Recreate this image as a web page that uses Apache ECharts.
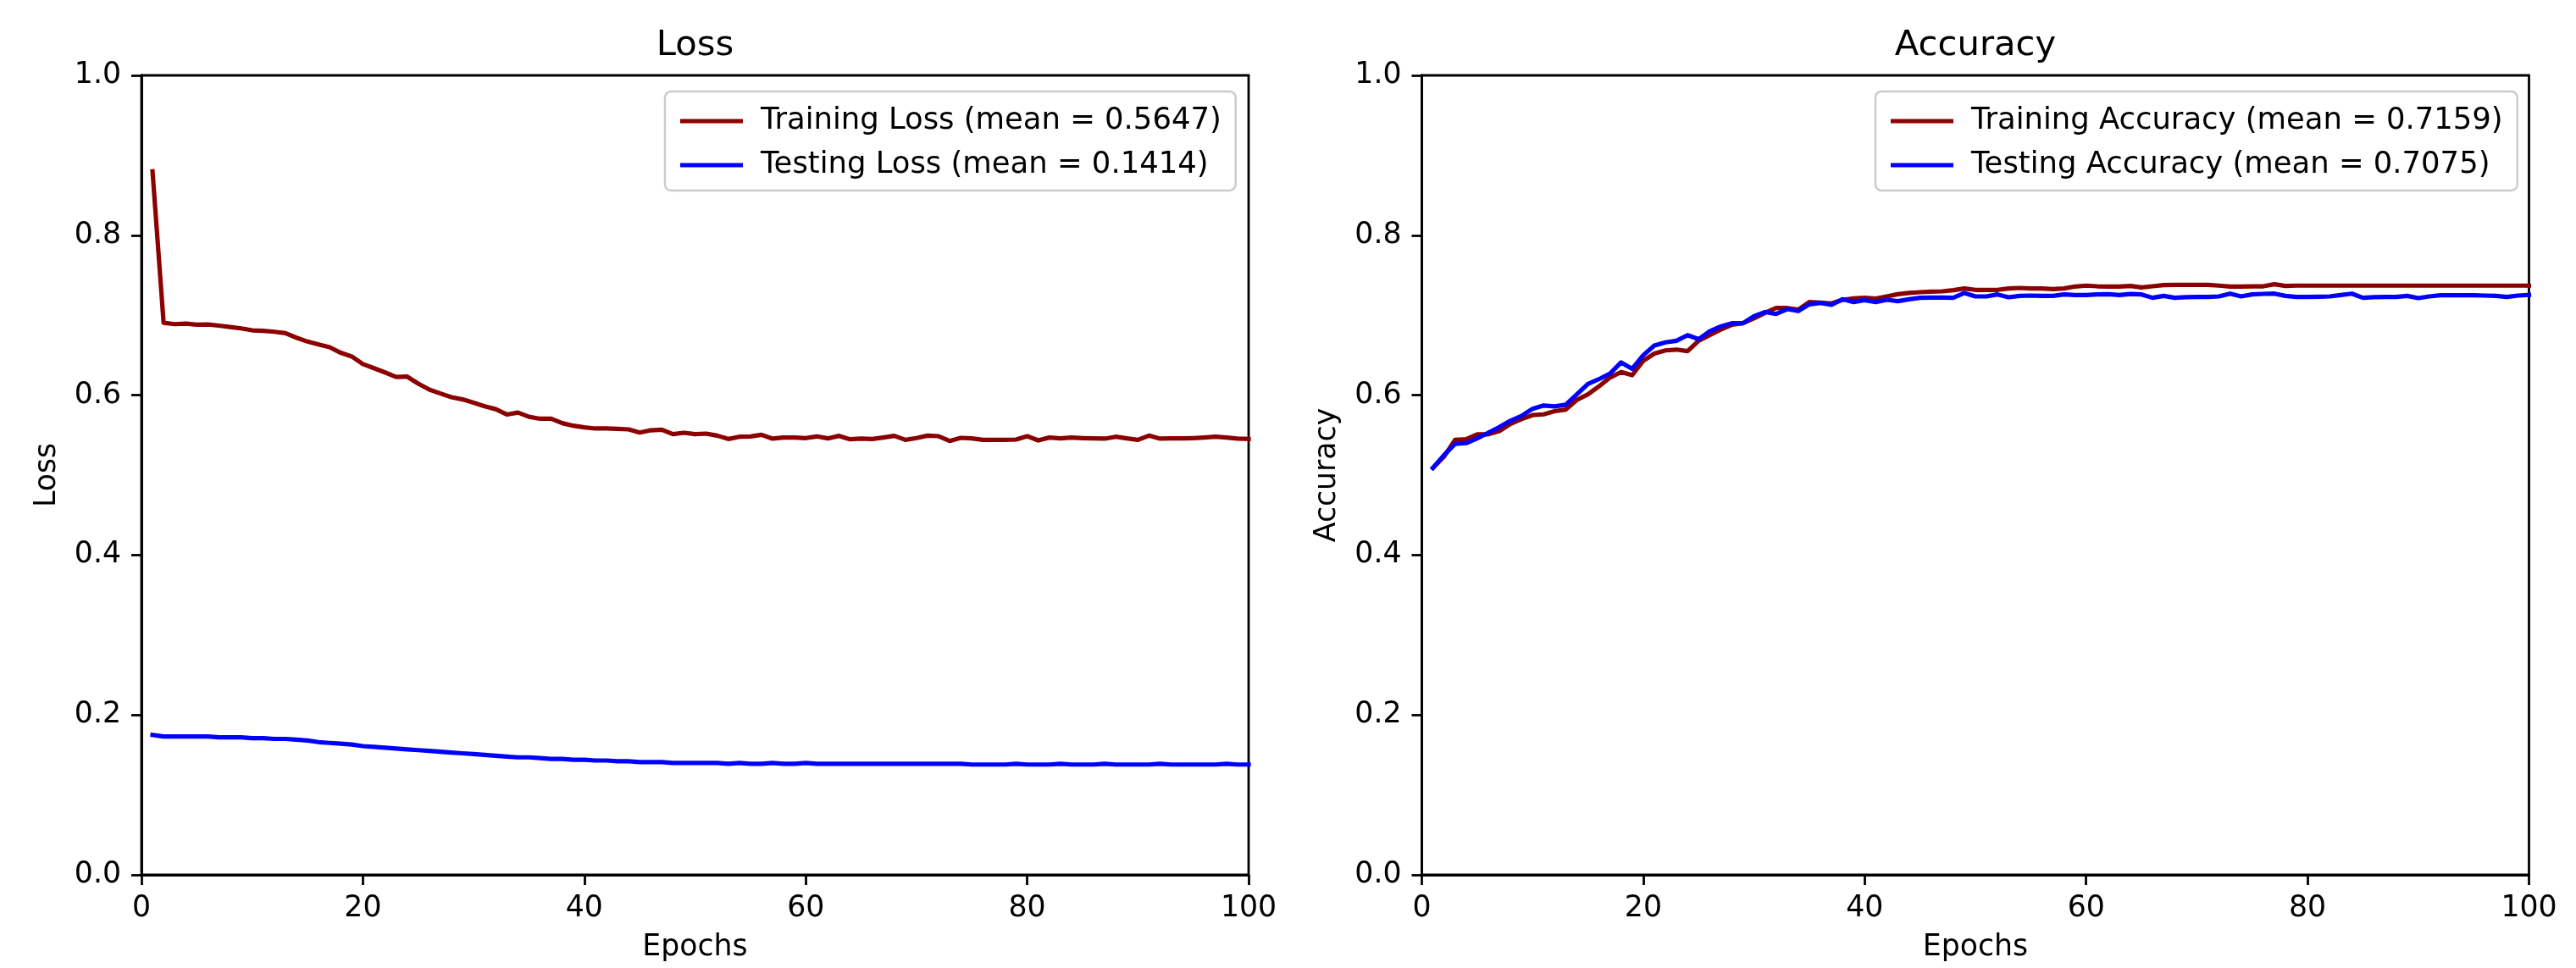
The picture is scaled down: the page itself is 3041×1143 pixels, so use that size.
<!DOCTYPE html>
<html><head><meta charset="utf-8">
<script src="https://cdn.jsdelivr.net/npm/echarts@6/dist/echarts.min.js"></script>
<style>html,body{margin:0;padding:0;background:#fff}#c{width:3041px;height:1143px}</style>
</head><body><div id="c"></div>
<script>
const titles = ['Loss', 'Accuracy'];
const yNames = ['Loss', 'Accuracy'];
const xName = 'Epochs';
const xTicks = [0, 20, 40, 60, 80, 100];
const yTicks = [0.0, 0.2, 0.4, 0.6, 0.8, 1.0];
const lossNames = ['Training Loss (mean = 0.5647)', 'Testing Loss (mean = 0.1414)'];
const accNames = ['Training Accuracy (mean = 0.7159)', 'Testing Accuracy (mean = 0.7075)'];

const trainLoss = [
0.880,0.6905,0.6888,0.6895,0.6881,0.6884,0.6870,0.6853,0.6835,0.6811,
0.6804,0.6793,0.6775,0.6719,0.6670,0.6635,0.6600,0.6530,0.6484,0.6389,
0.6337,0.6284,0.6228,0.6232,0.6144,0.6070,0.6021,0.5975,0.5947,0.5905,
0.5860,0.5825,0.5758,0.5782,0.5730,0.5705,0.5705,0.5650,0.5618,0.5597,
0.5583,0.5583,0.5579,0.5572,0.5533,0.5561,0.5569,0.5512,0.5530,0.5512,
0.5519,0.5494,0.5452,0.5480,0.5484,0.5505,0.5456,0.5470,0.5470,0.5463,
0.5484,0.5459,0.5491,0.5448,0.5456,0.5452,0.5470,0.5491,0.5441,0.5463,
0.5494,0.5487,0.5427,0.5466,0.5459,0.5441,0.5441,0.5441,0.5445,0.5487,
0.5434,0.5470,0.5459,0.5470,0.5463,0.5459,0.5456,0.5480,0.5459,0.5441,
0.5494,0.5456,0.5459,0.5459,0.5463,0.5470,0.5480,0.5470,0.5456,0.5452];

const testLoss = [
0.175,0.173,0.173,0.173,0.173,0.173,0.172,0.172,0.172,0.171,
0.171,0.170,0.170,0.169,0.168,0.166,0.165,0.164,0.163,0.161,
0.160,0.159,0.158,0.157,0.156,0.155,0.154,0.153,0.152,0.151,
0.150,0.149,0.148,0.147,0.147,0.146,0.145,0.145,0.144,0.144,
0.143,0.143,0.142,0.142,0.141,0.141,0.141,0.140,0.140,0.140,
0.140,0.140,0.139,0.140,0.139,0.139,0.140,0.139,0.139,0.140,
0.139,0.139,0.139,0.139,0.139,0.139,0.139,0.139,0.139,0.139,
0.139,0.139,0.139,0.139,0.138,0.138,0.138,0.138,0.139,0.138,
0.138,0.138,0.139,0.138,0.138,0.138,0.139,0.138,0.138,0.138,
0.138,0.139,0.138,0.138,0.138,0.138,0.138,0.139,0.138,0.138];

const trainAcc = [
0.509,0.523,0.544,0.545,0.551,0.551,0.555,0.564,0.570,0.575,
0.576,0.580,0.582,0.594,0.601,0.611,0.622,0.629,0.625,0.643,
0.652,0.656,0.657,0.655,0.668,0.675,0.682,0.688,0.690,0.696,
0.703,0.709,0.709,0.707,0.7165,0.7158,0.7147,0.7193,0.7211,0.7218,
0.7207,0.7235,0.7263,0.7278,0.7288,0.7295,0.7299,0.7313,0.7334,0.7317,
0.7317,0.7317,0.7334,0.7341,0.7334,0.7334,0.7327,0.7334,0.7359,0.7370,
0.7362,0.7359,0.7359,0.7366,0.7348,0.7362,0.7377,0.7380,0.7380,0.7380,
0.7380,0.7370,0.7359,0.7359,0.7362,0.7362,0.7388,0.7366,0.7370,0.7370,
0.7370,0.7370,0.7370,0.7370,0.7370,0.7370,0.7370,0.7370,0.7370,0.7370,
0.7370,0.7370,0.7370,0.7370,0.7370,0.7370,0.7370,0.7370,0.7370,0.7370];

const testAcc = [
0.509,0.525,0.539,0.540,0.546,0.553,0.560,0.568,0.574,0.583,
0.587,0.586,0.588,0.601,0.614,0.620,0.627,0.641,0.633,0.650,
0.662,0.666,0.668,0.675,0.670,0.680,0.686,0.690,0.690,0.6988,
0.7041,0.7016,0.7076,0.7052,0.7136,0.7154,0.7129,0.7200,0.7165,0.7189,
0.7165,0.7193,0.7175,0.7200,0.7218,0.7221,0.7221,0.7218,0.7278,0.7235,
0.7235,0.7260,0.7225,0.7242,0.7246,0.7242,0.7242,0.7260,0.7253,0.7253,
0.7260,0.7263,0.7253,0.7265,0.7260,0.7218,0.7242,0.7218,0.7225,0.7228,
0.7228,0.7235,0.7270,0.7235,0.7260,0.7267,0.7270,0.7242,0.7228,0.7228,
0.7232,0.7235,0.7253,0.7270,0.7218,0.7225,0.7228,0.7228,0.7242,0.7214,
0.7235,0.7249,0.7249,0.7249,0.7249,0.7246,0.7242,0.7228,0.7246,0.7253];

const epochs = trainLoss.map((_, i) => i + 1);
const pairs = arr => arr.map((v, i) => [epochs[i], v]);

const FONT = 'DejaVu Sans';
const FS = 34.7;
const LEG_FS = 35.4;
const RED = '#8b0000';
const BLUE = '#0000ff';
const LW = 5.2;
const SW = 2.8;

const grids = [
  { left: 167, top: 89, width: 1307, height: 944 },
  { left: 1678.5, top: 89, width: 1307, height: 944 }
];

function xAxis(i) {
  return {
    type: 'value', gridIndex: i, min: xTicks[0], max: xTicks[xTicks.length - 1],
    interval: xTicks[1] - xTicks[0],
    name: xName, nameLocation: 'middle', nameGap: 68,
    nameTextStyle: { fontFamily: FONT, fontSize: FS, color: '#000' },
    axisLine: { show: true, onZero: false, lineStyle: { color: '#000', width: SW } },
    axisTick: { show: true, inside: false, length: 12, lineStyle: { color: '#000', width: SW } },
    axisLabel: { show: true, margin: 22, fontFamily: FONT, fontSize: FS, color: '#000', showMinLabel: true, showMaxLabel: true, hideOverlap: false },
    splitLine: { show: false }
  };
}
function yAxis(i) {
  return {
    type: 'value', gridIndex: i, min: yTicks[0], max: yTicks[yTicks.length - 1],
    interval: 0.2,
    name: yNames[i], nameLocation: 'middle', nameGap: 94, nameRotate: 90,
    nameTextStyle: { fontFamily: FONT, fontSize: FS, color: '#000' },
    axisLine: { show: true, onZero: false, lineStyle: { color: '#000', width: SW } },
    axisTick: { show: true, inside: false, length: 12, lineStyle: { color: '#000', width: SW } },
    axisLabel: { show: true, margin: 24, fontFamily: FONT, fontSize: FS, color: '#000', formatter: v => v.toFixed(1), showMinLabel: true, showMaxLabel: true, hideOverlap: false },
    splitLine: { show: false }
  };
}
function line(name, data, color, gi) {
  return {
    type: 'line', name: name, xAxisIndex: gi, yAxisIndex: gi, data: pairs(data),
    symbol: 'none', showSymbol: false, smooth: false, animation: false,
    lineStyle: { color: color, width: LW, join: 'round', cap: 'square' },
    itemStyle: { color: color },
    emphasis: { disabled: true }
  };
}
function legend(names, left) {
  return {
    data: names, orient: 'vertical', left: left, top: 108,
    icon: 'rect', itemWidth: 74, itemHeight: 5, itemGap: 12,
    padding: [15, 17, 10, 18],
    backgroundColor: 'rgba(255,255,255,0.8)', borderColor: '#cccccc', borderWidth: 2.5, borderRadius: 7,
    textStyle: { fontFamily: FONT, fontSize: LEG_FS, color: '#000', lineHeight: 40, padding: [0, 0, 0, 16] },
    selectedMode: false
  };
}

const chart = echarts.init(document.getElementById('c'), null, { renderer: 'canvas', width: 3041, height: 1143 });
chart.setOption({
  backgroundColor: '#ffffff',
  animation: false,
  grid: grids.map(g => Object.assign({ show: true, borderColor: '#000', borderWidth: SW, backgroundColor: 'transparent', containLabel: false, outerBoundsMode: 'none' }, g)),
  xAxis: [xAxis(0), xAxis(1)],
  yAxis: [yAxis(0), yAxis(1)],
  legend: [legend(lossNames, 785), legend(accNames, 2214)],
  series: [
    line(lossNames[0], trainLoss, RED, 0),
    line(lossNames[1], testLoss, BLUE, 0),
    line(accNames[0], trainAcc, RED, 1),
    line(accNames[1], testAcc, BLUE, 1)
  ],
  graphic: titles.map((t, i) => ({
    type: 'text', x: grids[i].left + grids[i].width / 2, y: 54, silent: true,
    style: { text: t, font: '41.7px "DejaVu Sans"', fill: '#000', align: 'center', verticalAlign: 'middle', textAlign: 'center', textVerticalAlign: 'middle' }
  }))
});
</script>
</body></html>
